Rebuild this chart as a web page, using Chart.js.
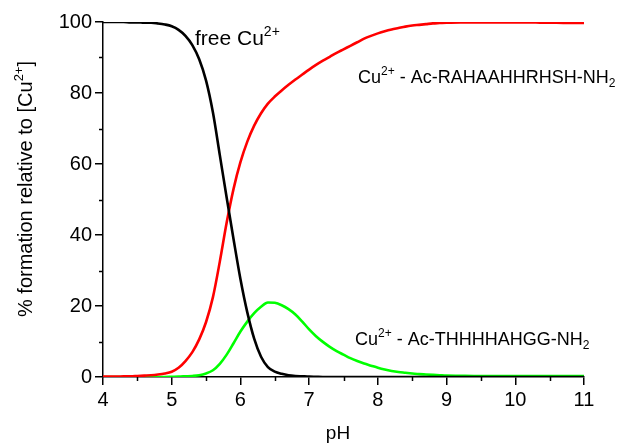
<!DOCTYPE html>
<html lang="en">
<head>
    <meta charset="UTF-8">
    <title>Cu(II) speciation vs pH</title>
    <script src="https://cdn.jsdelivr.net/npm/chart.js"></script>
    <style>
        body { margin: 0; background: #fff; }
        .wrap { width: 624px; height: 445px; position: relative; }
    </style>
</head>
<body>
    <div class="wrap"><canvas id="chart"></canvas></div>

    <script>
        // pH grid and the three species, % of total Cu2+
        const ph = [
            4.0, 4.1, 4.2, 4.3, 4.4, 4.5, 4.6, 4.7, 4.8, 4.9,
            5.0, 5.1, 5.2, 5.3, 5.4, 5.5, 5.6, 5.7, 5.8, 5.9,
            6.0, 6.1, 6.2, 6.3, 6.4, 6.5, 6.6, 6.7, 6.8, 6.9,
            7.0, 7.1, 7.2, 7.3, 7.4, 7.5, 7.6, 7.7, 7.8, 7.9,
            8.0, 8.1, 8.2, 8.3, 8.4, 8.5, 8.6, 8.7, 8.8, 8.9,
            9.0, 9.2, 9.4, 9.6, 9.8, 10.0, 10.2, 10.4, 10.6, 10.8, 11.0
        ];
        const freeCu = [
            100, 100, 100, 100, 99.9, 99.9, 99.8, 99.8, 99.6, 99.3,
            98.8, 97.8, 96.1, 93.5, 89.5, 83.5, 74.5, 62.5, 50.5, 38.8,
            27.6, 18.2, 10.8, 5.7, 2.8, 1.5, 0.9, 0.5, 0.3, 0.2,
            0.1, 0.05, 0, 0, 0, 0, 0, 0, 0, 0,
            0, 0, 0, 0, 0, 0, 0, 0, 0, 0,
            0, 0, 0, 0, 0, 0, 0, 0, 0, 0, 0
        ];
        const cuRahaa = [
            0.1, 0.1, 0.1, 0.2, 0.2, 0.3, 0.4, 0.5, 0.7, 1.0,
            1.5, 2.6, 4.5, 7.0, 10.6, 15.5, 22.5, 32.5, 43.5, 53,
            60.5, 66.3, 70.8, 74.3, 77, 79, 80.7, 82.3, 83.8, 85.2,
            86.6, 87.9, 89.1, 90.2, 91.3, 92.3, 93.3, 94.3, 95.3, 96.1,
            96.8, 97.4, 97.9, 98.3, 98.7, 99.0, 99.2, 99.4, 99.6, 99.7,
            99.8, 99.9, 99.9, 99.9, 99.9, 99.9, 99.9, 99.8, 99.8, 99.7, 99.7
        ];
        const cuThhhh = [
            0, 0, 0, 0, 0, 0, 0, 0, 0, 0,
            0.05, 0.1, 0.2, 0.3, 0.5, 1.0, 1.9, 3.7, 6.3, 9.5,
            12.8, 15.6, 18, 19.8, 21, 20.9, 20.2, 19.1, 17.6, 15.6,
            13.4, 11.5, 9.9, 8.5, 7.3, 6.3, 5.3, 4.5, 3.8, 3.2,
            2.6, 2.1, 1.7, 1.4, 1.2, 1.0, 0.8, 0.7, 0.6, 0.5,
            0.4, 0.35, 0.3, 0.3, 0.3, 0.3, 0.3, 0.3, 0.3, 0.3, 0.3
        ];
        const xTicks = [4, 5, 6, 7, 8, 9, 10, 11];
        const yTicks = [0, 20, 40, 60, 80, 100];
        const xMinor = [4.5, 5.5, 6.5, 7.5, 8.5, 9.5, 10.5];
        const yMinor = [10, 30, 50, 70, 90];

        const FONT = "'Liberation Sans', Arial, sans-serif";

        function pts(vals) {
            return ph.map((x, i) => ({ x: x, y: vals[i] }));
        }

        // text with super/subscripts, parts = [[text, 'sup'|'sub'|''], ...]
        function richText(ctx, x, y, parts, size, align) {
            const fontFor = k => (k ? Math.round(size * 0.65) : size) + 'px ' + FONT;
            let total = 0;
            parts.forEach(p => { ctx.font = fontFor(p[1]); total += ctx.measureText(p[0]).width; });
            let cx = align === 'center' ? x - total / 2 : x;
            ctx.textAlign = 'left';
            ctx.textBaseline = 'alphabetic';
            ctx.fillStyle = '#000';
            parts.forEach(p => {
                ctx.font = fontFor(p[1]);
                let dy = p[1] === 'sup' ? -size * 0.45 : p[1] === 'sub' ? size * 0.2 : 0;
                ctx.fillText(p[0], cx, y + dy);
                cx += ctx.measureText(p[0]).width;
            });
        }

        const extras = {
            id: 'extras',
            afterDraw(chart) {
                const ctx = chart.ctx;
                const xs = chart.scales.x, ys = chart.scales.y;
                const area = chart.chartArea;
                ctx.save();
                // minor ticks
                ctx.strokeStyle = '#000';
                ctx.lineWidth = 1.5;
                ctx.beginPath();
                xMinor.forEach(v => {
                    const px = Math.round(xs.getPixelForValue(v)) + 0.5;
                    ctx.moveTo(px, area.bottom);
                    ctx.lineTo(px, area.bottom + 4);
                });
                yMinor.forEach(v => {
                    const py = Math.round(ys.getPixelForValue(v)) + 0.5;
                    ctx.moveTo(area.left, py);
                    ctx.lineTo(area.left - 4, py);
                });
                ctx.stroke();

                // annotations
                richText(ctx, 195, 45, [['free Cu', ''], ['2+', 'sup']], 21);
                richText(ctx, 358, 83, [['Cu', ''], ['2+', 'sup'], [' - Ac-RAHAAHHRHSH-NH', ''], ['2', 'sub']], 18);
                richText(ctx, 355, 345, [['Cu', ''], ['2+', 'sup'], [' - Ac-THHHHAHGG-NH', ''], ['2', 'sub']], 18);

                // axis titles
                richText(ctx, 338, 439, [['pH', '']], 19, 'center');
                ctx.translate(32, 189);
                ctx.rotate(-Math.PI / 2);
                richText(ctx, 0, 0, [['% formation relative to [Cu', ''], ['2+', 'sup'], [']', '']], 20, 'center');
                ctx.restore();
            }
        };

        new Chart(document.getElementById('chart'), {
            type: 'line',
            data: {
                datasets: [
                    { label: 'free Cu2+', data: pts(freeCu), borderColor: '#000000' },
                    { label: 'Cu2+ - Ac-RAHAAHHRHSH-NH2', data: pts(cuRahaa), borderColor: '#ff0000' },
                    { label: 'Cu2+ - Ac-THHHHAHGG-NH2', data: pts(cuThhhh), borderColor: '#00ff00' }
                ]
            },
            options: {
                responsive: true,
                maintainAspectRatio: false,
                animation: false,
                layout: { padding: { left: 0, top: 22, right: 40, bottom: 0 } },
                elements: {
                    point: { radius: 0 },
                    line: { borderWidth: 2.6, cubicInterpolationMode: 'monotone', fill: false }
                },
                plugins: { legend: { display: false }, tooltip: { enabled: false } },
                scales: {
                    x: {
                        type: 'linear', min: 4, max: 11,
                        afterBuildTicks: s => { s.ticks = xTicks.map(v => ({ value: v })); },
                        afterFit: s => { s.height = 68; },
                        grid: { drawOnChartArea: false, drawTicks: true, tickLength: 8, color: '#000', lineWidth: 1.5 },
                        border: { display: true, color: '#000', width: 1.5 },
                        ticks: { color: '#000', font: { family: FONT, size: 20 }, padding: 3, maxRotation: 0 }
                    },
                    y: {
                        min: 0, max: 100,
                        afterBuildTicks: s => { s.ticks = yTicks.map(v => ({ value: v })); },
                        afterFit: s => { s.width = 103; },
                        grid: { drawOnChartArea: false, drawTicks: true, tickLength: 8, color: '#000', lineWidth: 1.5 },
                        border: { display: true, color: '#000', width: 1.5 },
                        ticks: { color: '#000', font: { family: FONT, size: 20 }, padding: 3 }
                    }
                }
            },
            plugins: [extras]
        });
    </script>
</body>
</html>
